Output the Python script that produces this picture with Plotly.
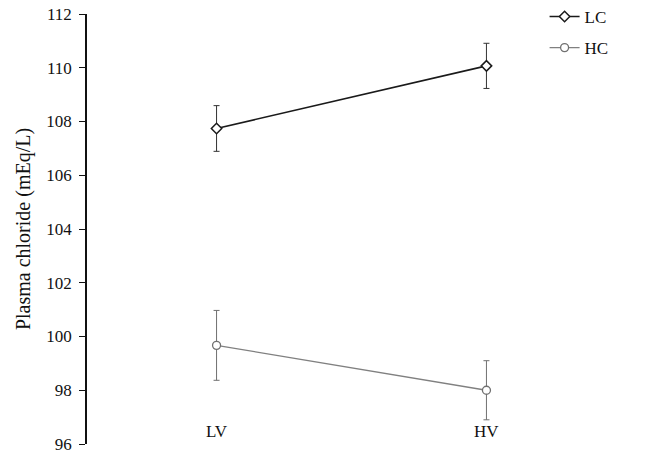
import plotly.graph_objects as go

categories = ["LV", "HV"]
lc_values = [107.74, 110.07]
lc_err = [0.85, 0.84]
hc_values = [99.67, 98.0]
hc_err = [1.3, 1.1]
y_ticks = [96, 98, 100, 102, 104, 106, 108, 110, 112]

FONT = "Liberation Serif, Times New Roman, serif"
xpos = list(range(len(categories)))

fig = go.Figure()
fig.add_trace(go.Scatter(
    x=xpos, y=lc_values, name="LC", mode="lines+markers", legendgroup="a",
    line=dict(color="#1a1a1a", width=1.6),
    marker=dict(symbol="diamond", size=8, color="white", line=dict(color="#1a1a1a", width=1.5)),
    error_y=dict(type="data", array=lc_err, color="#333", thickness=1, width=3),
))
fig.add_trace(go.Scatter(
    x=xpos, y=hc_values, name="HC", mode="lines+markers", legendgroup="b",
    line=dict(color="#808080", width=1.3),
    marker=dict(symbol="circle", size=8, color="white", line=dict(color="#707070", width=1.3)),
    error_y=dict(type="data", array=hc_err, color="#707070", thickness=1, width=3),
))

for i, c in enumerate(categories):
    fig.add_annotation(x=i, y=0, xref="x", yref="paper", text=c, showarrow=False,
                       yanchor="bottom", yshift=1, font=dict(family=FONT, size=17, color="#111"))

fig.update_layout(
    width=646, height=454,
    margin=dict(l=87, r=30, t=14, b=10, autoexpand=False),
    paper_bgcolor="white", plot_bgcolor="white",
    font=dict(family=FONT, size=17, color="#111"),
    showlegend=True,
    legend=dict(x=0.865, y=1.035, xanchor="left", yanchor="top", bgcolor="rgba(0,0,0,0)",
                font=dict(family=FONT, size=17, color="#111"), itemwidth=30,
                traceorder="grouped", tracegroupgap=6),
    xaxis=dict(range=[-0.48, 1.48], showline=False, showgrid=False, zeroline=False,
               showticklabels=False, ticks=""),
    yaxis=dict(range=[96, 112], tickvals=y_ticks, showline=True, linecolor="#111", linewidth=1.5,
               ticks="outside", ticklen=6, tickcolor="#111", showgrid=False, zeroline=False,
               ticklabeloverflow="allow", ticklabelstandoff=4,
               title=dict(text="Plasma chloride (mEq/L)", font=dict(family=FONT, size=20), standoff=10),
               tickfont=dict(family=FONT, size=17)),
)

fig.write_html("out.html")
